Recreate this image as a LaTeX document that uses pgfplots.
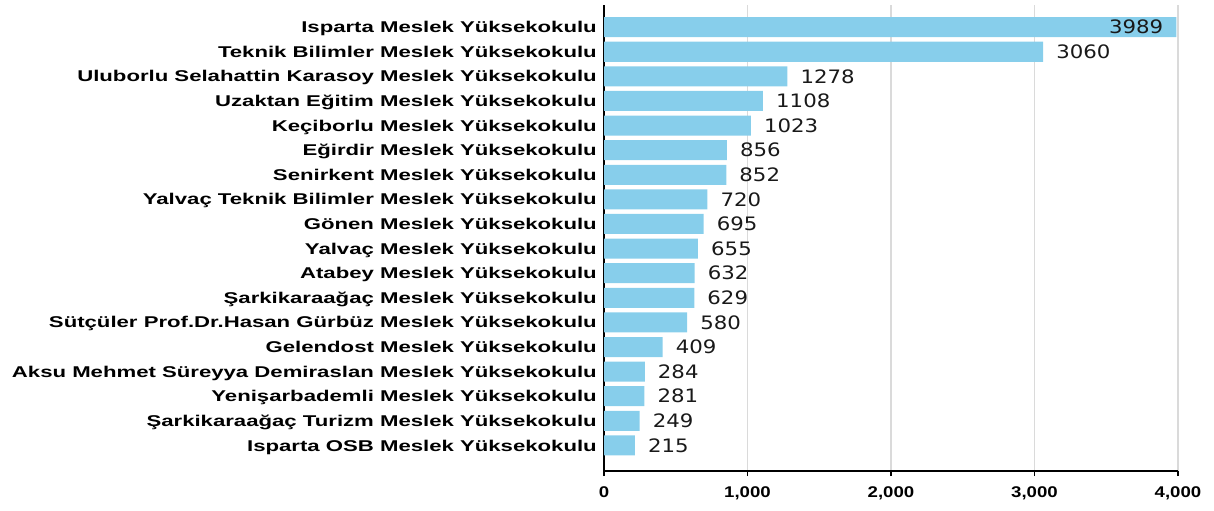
\documentclass[border=0pt]{standalone}
\usepackage{fontspec}
\setmainfont{Liberation Sans}
\newfontfamily\labfont[FakeStretch=1.42]{Liberation Sans}
\newfontfamily\tickfont[FakeStretch=1.2]{Liberation Sans}
\newfontfamily\valfont[FakeStretch=1.15]{DejaVu Sans}
\usepackage{pgfplots}
\pgfplotsset{compat=1.18}
\definecolor{barblue}{RGB}{135,206,235}
\definecolor{gridgray}{RGB}{218,218,218}
\begin{document}
\begin{tikzpicture}
\useasboundingbox (0,0) rectangle (1214bp,511bp);
\begin{axis}[
  at={(604bp,40bp)}, anchor=south west,
  scale only axis, width=574bp, height=466bp,
  xbar, bar width=20bp, bar shift=0pt,
  xmin=0, xmax=4000,
  ymin=-0.9, ymax=18.04, y dir=reverse,
  ytick={0,...,17},
  yticklabels={Isparta Meslek Yüksekokulu,
    Teknik Bilimler Meslek Yüksekokulu,
    Uluborlu Selahattin Karasoy Meslek Yüksekokulu,
    Uzaktan Eğitim Meslek Yüksekokulu,
    Keçiborlu Meslek Yüksekokulu,
    Eğirdir Meslek Yüksekokulu,
    Senirkent Meslek Yüksekokulu,
    Yalvaç Teknik Bilimler Meslek Yüksekokulu,
    Gönen Meslek Yüksekokulu,
    Yalvaç Meslek Yüksekokulu,
    Atabey Meslek Yüksekokulu,
    Şarkikaraağaç Meslek Yüksekokulu,
    Sütçüler Prof.Dr.Hasan Gürbüz Meslek Yüksekokulu,
    Gelendost Meslek Yüksekokulu,
    Aksu Mehmet Süreyya Demiraslan Meslek Yüksekokulu,
    Yenişarbademli Meslek Yüksekokulu,
    Şarkikaraağaç Turizm Meslek Yüksekokulu,
    Isparta OSB Meslek Yüksekokulu},
  xtick={0,1000,2000,3000,4000},
  axis x line*=bottom, axis y line*=left,
  axis line style={black, line width=1.3bp},
  xmajorgrids, grid style={gridgray, line width=1.5bp},
  tick align=outside, major tick length=5bp,
  xtick style={black, line width=1.3bp},
  ytick style={draw=none},
  /pgf/number format/assume math mode=true,
  /pgf/number format/1000 sep={,},
  xticklabel style={font=\tickfont\bfseries\fontsize{15.5bp}{15.5bp}\selectfont, inner sep=0pt, anchor=north, yshift=-10bp},
  yticklabel style={font=\labfont\bfseries\fontsize{15.6bp}{15.6bp}\selectfont, inner sep=0pt, anchor=east, xshift=-2bp, text height=11.2bp, text depth=0pt},
  nodes near coords,
  point meta=explicit symbolic,
]
\addplot[fill=barblue, draw=none,
  every node near coord/.append style={font=\valfont\fontsize{18.5bp}{18.5bp}\selectfont, anchor=west, inner sep=0pt, xshift=13bp, text=black!90},
] coordinates {
(3989,0) [] (3060,1) [3060] (1278,2) [1278] (1108,3) [1108] (1023,4) [1023]
(856,5) [856] (852,6) [852] (720,7) [720] (695,8) [695] (655,9) [655]
(632,10) [632] (629,11) [629] (580,12) [580] (409,13) [409] (284,14) [284]
(281,15) [281] (249,16) [249] (215,17) [215]
};
\addplot[fill=barblue, draw=none,
  every node near coord/.append style={font=\valfont\fontsize{18.5bp}{18.5bp}\selectfont, anchor=east, inner sep=0pt, xshift=-13bp, text=black!90},
] coordinates {(3989,0) [3989]};
\end{axis}
\end{tikzpicture}
\end{document}
